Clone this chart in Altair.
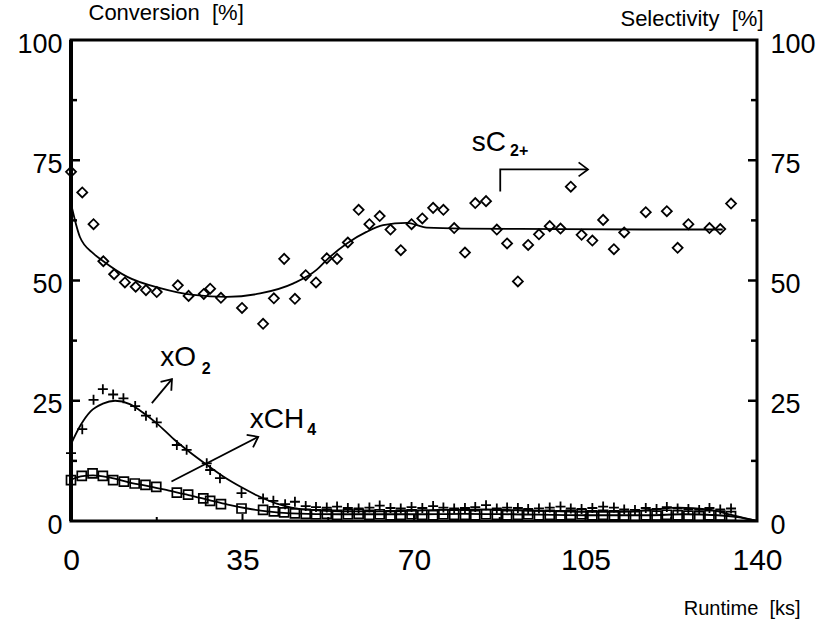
import altair as alt
import pandas as pd

FONT = "Liberation Sans"

# ---------------- data ----------------
sel_t = [0, 2.3, 4.6, 6.6, 8.8, 11.0, 13.2, 15.3, 17.5, 21.8, 24.0, 27.1, 28.4, 30.6,
         34.9, 39.2, 41.4, 43.5, 45.7, 47.9, 50.0, 52.2, 54.3, 56.5, 58.7, 60.9, 63.0,
         65.2, 67.3, 69.5, 71.7, 73.9, 76.0, 78.2, 80.4, 82.5, 84.7, 86.9, 89.0, 91.2,
         93.3, 95.5, 97.7, 99.9, 102.0, 104.2, 106.4, 108.6, 110.8, 112.9, 117.3, 121.6,
         123.8, 126.0, 130.3, 132.5, 134.7]
sel_v = [72.6, 68.3, 61.7, 54.0, 51.3, 49.6, 48.7, 48.0, 47.6, 49.0, 46.8, 47.2, 48.3, 46.4,
         44.3, 41.0, 46.3, 54.5, 46.2, 51.1, 49.6, 54.6, 54.5, 57.9, 64.7, 61.7, 63.4,
         60.6, 56.3, 61.7, 62.9, 65.1, 64.7, 60.9, 55.8, 66.1, 66.5, 60.6, 57.7, 49.8,
         57.4, 59.6, 61.3, 60.8, 69.5, 59.5, 58.3, 62.6, 56.5, 60.0, 64.2, 64.4,
         56.8, 61.7, 60.9, 60.7, 66.0]

o2_t = [0, 2.3, 4.6, 6.5, 8.6, 10.7, 13.1, 15.3, 17.5, 21.6, 23.6, 27.7, 28.4, 30.4,
        34.8, 39.2, 41.3, 43.7,
        45.7, 47.9, 50.0, 52.2, 54.3, 56.5, 58.7, 60.9, 63.0, 65.2, 67.3, 69.5, 71.7,
        73.9, 76.0, 78.2, 80.4, 82.5, 84.7, 86.9, 89.0, 91.2, 93.3, 95.5, 97.7, 99.9,
        102.0, 104.2, 106.4, 108.6, 110.8, 112.9, 115.1, 117.3, 119.5, 121.6, 123.8,
        126.0, 128.2, 130.3, 132.5, 134.7]
o2_v = [14.1, 19.1, 25.2, 27.4, 26.3, 25.5, 23.9, 21.9, 20.5, 15.8, 14.8, 12.0, 10.6, 8.9,
        5.8, 4.7, 4.2, 3.5,
        4.0, 3.1, 2.9, 2.8, 3.0, 2.7, 2.6, 2.8, 3.2, 2.7, 2.6, 2.9, 2.7,
        3.1, 2.8, 2.6, 2.7, 2.9, 3.3, 2.6, 2.8, 2.7, 2.5, 2.6, 2.8, 3.0,
        2.6, 2.5, 2.7, 3.0, 2.8, 2.4, 2.3, 2.7, 2.5, 2.9, 2.6,
        2.5, 2.3, 2.7, 2.4, 2.6]

ch4_t = [0, 2.2, 4.4, 6.5, 8.6, 10.8, 13.0, 15.2, 17.4, 21.6, 23.9, 27.0, 28.4, 30.6,
         34.8, 39.2, 41.4, 43.5,
         45.7, 47.9, 50.0, 52.2, 54.3, 56.5, 58.7, 60.9, 63.0, 65.2, 67.3, 69.5, 71.7,
         73.9, 76.0, 78.2, 80.4, 82.5, 84.7, 86.9, 89.0, 91.2, 93.3, 95.5, 97.7, 99.9,
         102.0, 104.2, 106.4, 108.6, 110.8, 112.9, 115.1, 117.3, 119.5, 121.6, 123.8,
         126.0, 128.2, 130.3, 132.5, 134.7]
ch4_v = [8.5, 9.4, 9.9, 9.4, 8.5, 8.2, 7.8, 7.5, 7.1, 5.9, 5.5, 4.7, 4.2, 3.5,
         2.6, 2.3, 2.0, 1.8,
         1.6, 1.5, 1.4, 1.5, 1.3, 1.4, 1.5, 1.3, 1.4, 1.2, 1.3, 1.4, 1.3,
         1.2, 1.4, 1.3, 1.3, 1.2, 1.4, 1.3, 1.2, 1.3, 1.4, 1.2, 1.3, 1.2,
         1.3, 1.4, 1.2, 1.3, 1.2, 1.1, 1.0, 1.2, 1.1, 1.3, 1.2,
         1.1, 1.0, 1.2, 1.1, 1.0]

# fitted curves
sel_fit_t = [0, 1.8, 4.6, 6.6, 11.4, 18.2, 25, 31.8, 38.6, 45.4, 50.1, 52.2, 56.3, 60.3,
             63.7, 68.5, 72.6, 80, 100, 120, 133]
sel_fit_v = [66.0, 59.1, 55.6, 54.0, 50.8, 48.4, 47.0, 46.6, 47.3, 49.4, 52.2, 54.3, 57.7,
             60.1, 61.5, 62.0, 61.0, 60.8, 60.7, 60.6, 60.6]
o2_fit_t = [0, 2, 4, 6.5, 9, 12, 15, 17.5, 21, 24, 27, 31, 34.8, 38, 42, 45, 48.8, 55,
            65, 75, 85, 95, 105, 112, 118, 124, 130, 135, 140]
o2_fit_v = [16.0, 20.0, 22.8, 24.4, 25.0, 24.3, 22.3, 20.3, 17.0, 14.5, 12.2, 9.3, 7.0,
            5.3, 3.6, 2.8, 2.3, 2.0, 2.0, 2.3, 2.4, 2.1, 1.9, 1.9, 2.3, 2.8, 2.4, 1.2, 0]
ch4_fit_t = [0, 2, 4.5, 8, 12, 16, 20, 24, 28, 32, 36, 40, 45, 55, 70, 80, 90, 105, 118,
             125, 132, 136, 140]
ch4_fit_v = [8.6, 9.3, 9.5, 9.0, 8.0, 7.2, 6.3, 5.4, 4.4, 3.4, 2.6, 2.0, 1.6, 1.4, 1.4,
             1.5, 1.4, 1.2, 1.2, 1.4, 1.2, 0.8, 0]

x_ticks = [0, 35, 70, 105, 140]
y_ticks = [0, 25, 50, 75, 100]
y_major_in = [25, 50, 75]
y_minor_in = [12.5, 37.5, 62.5, 87.5]
x_major_in = [35, 70, 105]
x_minor_in = [17.5, 52.5, 87.5, 122.5]

# ---------------- frames ----------------
sel_df = pd.DataFrame({"t": sel_t, "v": sel_v})
o2_df = pd.DataFrame({"t": o2_t, "v": o2_v})
ch4_df = pd.DataFrame({"t": ch4_t, "v": ch4_v})
fit_df = pd.concat([
    pd.DataFrame({"t": sel_fit_t, "v": sel_fit_v, "s": "sel"}),
    pd.DataFrame({"t": o2_fit_t, "v": o2_fit_v, "s": "o2"}),
    pd.DataFrame({"t": ch4_fit_t, "v": ch4_fit_v, "s": "ch4"}),
], ignore_index=True)

W, H = 686, 481
xs = alt.Scale(domain=[0, 140], nice=False, zero=False)
ys = alt.Scale(domain=[0, 100], nice=False, zero=False)

x_axis = alt.Axis(values=x_ticks, ticks=False, domain=False, grid=False,
                  labelFont=FONT, labelFontSize=30, labelColor="black",
                  labelPadding=24, labelFlush=False, labelOverlap=False,
                  title="Runtime\u00a0 [ks]", titleFont=FONT, titleFontSize=20,
                  titleFontWeight="normal", titleColor="black",
                  titleX=729, titleY=87, titleAlign="right", titleBaseline="middle")
yl_axis = alt.Axis(values=y_ticks, ticks=False, domain=False, grid=False, orient="left",
                   labelFont=FONT, labelFontSize=27, labelColor="black",
                   labelPadding=9, labelOffset=4, labelFlush=False, labelOverlap=False,
                   title="Conversion\u00a0 [%]", titleFont=FONT, titleFontSize=22,
                   titleFontWeight="normal", titleColor="black", titleAngle=0,
                   titleX=17, titleY=-28, titleAlign="left", titleBaseline="middle")
yr_axis = alt.Axis(values=y_ticks, ticks=False, domain=False, grid=False, orient="right",
                   labelFont=FONT, labelFontSize=27, labelColor="black",
                   labelPadding=13, labelOffset=4, labelFlush=False, labelOverlap=False,
                   title="Selectivity\u00a0 [%]", titleFont=FONT, titleFontSize=22,
                   titleFontWeight="normal", titleColor="black", titleAngle=0,
                   titleX=6, titleY=-22, titleAlign="right", titleBaseline="middle")

X = alt.X("t:Q", scale=xs, axis=x_axis)
Y = alt.Y("v:Q", scale=ys, axis=yl_axis)

sel_pts = alt.Chart(sel_df).mark_point(shape="diamond", filled=False, size=100,
                                       strokeWidth=1.8, color="black", opacity=1).encode(x=X, y=Y)
o2_pts = alt.Chart(o2_df).mark_point(shape="M-1,0H1M0,-1V1", filled=False, size=100,
                                     strokeWidth=1.8, color="black", opacity=1).encode(x=X, y=Y)
ch4_pts = alt.Chart(ch4_df).mark_point(shape="square", filled=False, size=81,
                                       strokeWidth=1.7, color="black", opacity=1).encode(x=X, y=Y)
fits = alt.Chart(fit_df).mark_line(color="black", strokeWidth=1.8, interpolate="monotone").encode(
    x=X, y=Y, detail="s:N")

# annotation arrows
arrow_df = pd.DataFrame({
    "t": [87.6, 87.6, 105.5, 16.5, 20.6, 20.5, 38.2],
    "v": [68.5, 73.1, 73.1, 24.5, 29.5, 8.2, 17.5],
    "a": ["s", "s", "s", "o", "o", "c", "c"],
    "k": [0, 1, 2, 0, 1, 0, 1],
})
arrows = alt.Chart(arrow_df).mark_line(color="black", strokeWidth=1.8).encode(
    x=X, y=Y, detail="a:N", order="k:Q")

heads = []
for (ht, hv, ang) in [(105.5, 73.1, 0), (20.6, 29.5, 310), (38.2, 17.5, 333)]:
    heads.append(alt.Chart(sel_df).mark_point(
        shape="M-1,-0.75L0,0L-1,0.75", filled=False, size=350, strokeWidth=1.8,
        color="black", opacity=1, angle=ang).encode(
        x=alt.datum(ht, scale=xs), y=alt.datum(hv, scale=ys)).transform_filter("datum.t == 0"))

texts = []
for (tt, tv, txt, fs) in [(81.8, 78.6, "sC", 28), (89.6, 77.0, "2+", 16),
                          (18.2, 33.9, "xO", 28), (26.7, 31.6, "2", 16),
                          (36.5, 21.0, "xCH", 28), (48.2, 19.0, "4", 16)]:
    texts.append(alt.Chart(sel_df).mark_text(
        text=txt, font=FONT, fontSize=fs, align="left", baseline="middle",
        color="black", fontWeight="bold" if fs == 16 else "normal").encode(
        x=alt.datum(tt, scale=xs), y=alt.datum(tv, scale=ys)).transform_filter("datum.t == 0"))

# inward tick marks
def ytick_layer(vals, x0, x1):
    return alt.Chart(pd.DataFrame({"v": vals})).mark_rule(color="black", strokeWidth=2.5).encode(
        y=Y, x=alt.value(x0), x2=alt.value(x1))

def xtick_layer(vals, length):
    return alt.Chart(pd.DataFrame({"t": vals})).mark_rule(color="black", strokeWidth=2).encode(
        x=X, y=alt.value(H), y2=alt.value(H - length))

left_edge = alt.Chart(pd.DataFrame({"v": [0]})).mark_rule(color="black", strokeWidth=4).encode(
    y=alt.value(0), y2=alt.value(H), x=alt.value(0))

left_group = alt.layer(
    fits, sel_pts, o2_pts, ch4_pts, arrows, *heads, *texts,
    ytick_layer(y_major_in, 0, 9), ytick_layer(y_minor_in, 0, 6),
    xtick_layer(x_major_in, 7), xtick_layer(x_minor_in, 4), left_edge,
)

right_ticks_major = alt.Chart(pd.DataFrame({"v": y_major_in})).mark_rule(
    color="black", strokeWidth=2.5).encode(
    y=alt.Y("v:Q", scale=ys, axis=yr_axis), x=alt.value(W), x2=alt.value(W - 9))
right_ticks_minor = alt.Chart(pd.DataFrame({"v": y_minor_in})).mark_rule(
    color="black", strokeWidth=2.5).encode(
    y=alt.Y("v:Q", scale=ys, axis=yr_axis), x=alt.value(W), x2=alt.value(W - 6))
right_group = alt.layer(right_ticks_major, right_ticks_minor)

chart = alt.layer(left_group, right_group).resolve_scale(y="independent").properties(
    width=W, height=H,
    autosize=alt.AutoSizeParams(type="none"),
    padding={"left": 71, "top": 40, "right": 71, "bottom": 105},
    background="white",
).configure_view(stroke="black", strokeWidth=3)

chart.save("out.html", embed_options={"renderer": "svg", "actions": False})
